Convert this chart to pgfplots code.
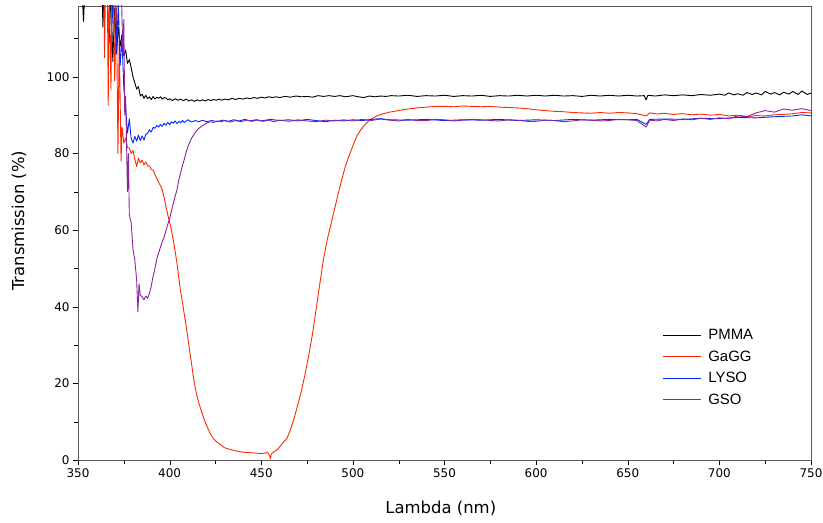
\documentclass[border=0pt]{standalone}
\usepackage{pgfplots}
\pgfplotsset{compat=1.18}
\usepackage{fontspec}
\setmainfont{DejaVu Sans}
\newfontfamily\legfont{Liberation Sans}
\definecolor{cRed}{RGB}{255,40,0}
\definecolor{cBlue}{RGB}{0,40,255}
\definecolor{cPurple}{RGB}{140,35,160}
\begin{document}
\begin{tikzpicture}
\begin{axis}[
  scale only axis,
  width=733bp, height=454bp,
  xmin=350, xmax=750, ymin=0, ymax=118.5,
  xtick={350,400,...,750}, minor xtick={375,425,...,725},
  ytick={0,20,...,100}, minor ytick={10,30,...,110},
  xtick pos=left, ytick pos=left,
  tick align=outside,
  major tick length=5bp, minor tick length=3.5bp,
  axis line style={black!65},
  tick style={black},
  /pgf/number format/assume math mode=true,
  /pgf/number format/1000 sep={},
  ticklabel style={font=\fontsize{12}{14}\selectfont},
  xticklabel style={inner xsep=0pt},
  xlabel={Lambda (nm)}, ylabel={Transmission (\%)},
  label style={font=\fontsize{16.5}{19}\selectfont},
  xlabel style={at={(axis description cs:0.495,-0.106)}, anchor=center},
  ylabel style={at={(axis description cs:-0.0805,0.527)}, anchor=center},
  legend style={draw=none, fill=none, at={(0.793,0.297)}, anchor=north west,
    font=\legfont\fontsize{15}{18}\selectfont, row sep=5.6bp},
  legend cell align=left,
  legend image code/.code={\draw[#1, line width=0.9bp] (0bp,0bp) -- (38bp,0bp); \path (43bp,0bp);},
  every axis plot/.append style={line width=0.9bp, line join=round},
]
\addplot[black] coordinates {(352,125)(353,114.5)(354,125)(363,125)(363.6,113)(364.2,125)(366,120)(367,109)(368,122)(369,104)(370,118)(371,106)(372,113)(373,108)(374,111)(375,105.5)(376,107)(377,103.5)(378,104.5)(379,102.5)(380,100)(381,98.5)(382,96.8)(383,97.5)(384,95)(385,95.5)(386,94.4)(387,95.2)(388,94.3)(389,94.8)(390,94.1)(391,94.9)(392,94.2)(393,94.7)(394,94.4)(395,94.8)(396,94.2)(397,94.6)(398,94.5)(399,94.0)(400,94.3)(401.5,93.8)(403,94.3)(404.5,93.9)(406,94.2)(407.5,93.8)(409,94.2)(410.5,93.7)(412,94.0)(413.5,93.6)(415,94)(416.5,93.7)(418,94.0)(419.5,93.7)(421,94.1)(422.5,93.8)(424,94.1)(425.5,93.9)(427,94.2)(428.5,93.9)(430,94.2)(432,94.0)(434,94.4)(436,94.1)(438,94.4)(440,94.2)(442,94.5)(444,94.3)(446,94.6)(448,94.4)(450,94.7)(452,94.5)(454,94.8)(456,94.6)(458,94.8)(460,94.6)(463,94.9)(466,94.7)(469,95.0)(472,94.8)(475,94.9)(478,94.7)(481,95.1)(484,94.9)(487,95.1)(490,94.9)(493,95.1)(496,94.8)(500,95.1)(503,94.8)(506,94.6)(509,95.0)(512,94.8)(515,95.0)(518,94.9)(521,95.1)(525,95.0)(530,95.2)(535,94.9)(540,95.1)(545,95.0)(550,95.2)(555,94.9)(560,95.1)(565,95.0)(570,95.2)(575,94.9)(580,95.1)(585,95.0)(590,95.2)(595,95.0)(600,95.2)(605,95.0)(610,95.2)(615,95.0)(620,95.1)(625,94.9)(630,95.2)(635,95.0)(640,95.2)(645,95.0)(650,95.2)(655,95.0)(659,95.1)(660,94.0)(661,95.2)(665,95.0)(670,95.3)(675,95.1)(680,95.3)(685,95.1)(690,95.4)(695,95.2)(700,95.5)(703,95.2)(705,95.8)(708,95.3)(710,95.6)(713,95.2)(715,95.9)(718,95.4)(720,95.8)(723,95.3)(725,96.2)(728,95.5)(730,95.9)(733,95.3)(735,96.0)(738,95.5)(740,96.2)(743,95.4)(745,96.3)(748,95.4)(750,95.8)};
\addlegendentry{PMMA}
\addplot[cRed] coordinates {(364,125)(364.5,105)(365,125)(366,125)(366.5,92.5)(367,125)(368,96.5)(368.5,125)(369.5,125)(370,99)(371,118)(371.8,80)(372.5,110)(373.5,78)(374,87)(375,82.7)(376,84)(377,81.5)(378,81.5)(379,80)(380,80.8)(381,78.5)(382,76.6)(383,78.8)(384,77.5)(385,78.3)(386,77)(387,77.8)(388,76.8)(389,76.7)(390,75.8)(391,75.7)(392,74.5)(393,73.5)(394,72.5)(395,71.6)(396,70.4)(397,68.5)(398,66.2)(399,64)(400,62)(401,60)(402,57.4)(403,54.5)(404,51.4)(405,47.5)(406,44)(407,41.2)(408,38)(409,35)(410,31.8)(411,28.2)(412,25)(413,21.5)(414,18.8)(415,16.6)(416,14.8)(417,13.2)(418,11.8)(419,10.4)(420,9.2)(422,7.0)(424,5.5)(426,4.6)(428,3.9)(430,3.2)(432,2.9)(435,2.5)(438,2.2)(441,2.0)(444,1.9)(447,1.8)(450,1.7)(452,1.8)(453.5,2.0)(454.5,1.2)(455,0.3)(455.5,1.6)(457,2.2)(458.5,2.6)(460,3.4)(462,4.6)(464,5.6)(466,8)(468,11)(470,14.5)(472,18.2)(474,22.6)(476,27.5)(478,33)(480,39.5)(482,46.1)(484,52.5)(486,57.5)(488,61.5)(490,65.5)(492,69.5)(494,73.3)(496,76.8)(498,79.5)(500,82)(502,84.4)(504,86)(506,87.2)(508,88.2)(510,89)(513,89.8)(516,90.3)(520,90.8)(525,91.2)(530,91.6)(535,91.9)(540,92.1)(545,92.3)(550,92.3)(555,92.2)(560,92.4)(565,92.3)(570,92.2)(575,92.3)(580,92.1)(585,92.0)(590,91.9)(595,91.7)(600,91.4)(605,91.2)(610,91.0)(615,90.9)(620,90.7)(625,90.6)(630,90.5)(635,90.7)(640,90.5)(645,90.7)(650,90.6)(655,90.4)(660,89.8)(662,90.6)(666,90.3)(670,90.5)(675,90.2)(680,90.4)(685,90.1)(690,90.3)(695,90.0)(700,90.2)(705,89.8)(710,90.0)(716,89.6)(720,89.9)(725,89.8)(730,90.1)(735,90.2)(740,90.4)(745,90.7)(750,90.6)};
\addlegendentry{GaGG}
\addplot[cBlue] coordinates {(368.5,125)(369,114)(369.5,125)(370.5,125)(371,106)(372,119)(373,103)(374,110)(375,97)(376,92)(377,85.3)(378,89)(379,84)(380,82.7)(381,84.5)(382,83.2)(383,84.8)(384,83.4)(385,84.6)(386,83.5)(387,85)(388,85.3)(389,86.2)(390,85.6)(391,86.8)(392,86.6)(393,87.3)(394,86.9)(395,87.6)(396,87.1)(397,87.9)(398,87.4)(399,88.1)(400,87.5)(401,88.3)(402,87.9)(403,88.5)(404,87.8)(405,88.4)(406,88.0)(407,88.6)(408,88.1)(410,88.8)(412,88.2)(414,88.6)(416,88.3)(418,88.7)(420,88.3)(423,88.6)(426,88.3)(429,88.7)(432,88.4)(435,88.8)(438,88.5)(441,88.9)(444,88.5)(447,88.8)(450,88.5)(455,88.9)(460,88.6)(465,88.8)(470,88.5)(475,88.9)(480,88.6)(485,88.3)(490,88.7)(495,88.5)(500,88.8)(505,88.6)(510,88.9)(515,89.1)(520,88.8)(530,88.7)(540,88.9)(550,88.6)(560,88.8)(570,88.7)(580,88.9)(590,88.6)(600,88.8)(610,88.6)(620,88.9)(630,88.7)(640,88.9)(650,88.8)(655,88.9)(660,87.6)(662,88.9)(670,89.0)(680,88.9)(690,89.2)(700,89.1)(710,89.4)(720,89.3)(730,89.6)(740,89.8)(745,90.1)(750,89.8)};
\addlegendentry{LYSO}
\addplot[cPurple] coordinates {(372,125)(373.5,125)(374.5,106)(375,115)(375.5,90)(376,95)(377,70)(377.5,80)(378,64)(379,62)(380,55)(381,52.2)(382,47)(382.7,38.7)(383.3,46)(384,43)(385,42.6)(386,41.8)(387,42.8)(388,42.2)(389,43.5)(390,45.5)(391,48)(392,50)(393,52.5)(394,54)(395,55.6)(396,57)(397,58.2)(398,59.8)(399,61.5)(400,63)(401,65)(402,67)(403,68.8)(404,70.5)(405,73)(406,75)(407,76.8)(408,78.5)(409,80.3)(410,81.8)(411,83)(412,84)(413,84.8)(414,85.5)(415,86.1)(416,86.6)(418,87.3)(420,87.9)(422,88.3)(424,88.1)(426,88.5)(428,88.3)(430,88.6)(433,88.2)(436,88.6)(439,88.3)(442,88.7)(445,88.4)(448,88.8)(451,88.4)(454,88.7)(457,88.3)(460,88.7)(465,88.4)(470,88.8)(475,88.5)(480,88.3)(485,88.7)(490,88.5)(495,88.8)(500,88.5)(505,88.9)(510,88.6)(515,89.0)(520,88.7)(525,88.5)(530,88.9)(535,88.6)(540,88.6)(545,88.9)(550,88.8)(555,88.5)(560,88.7)(565,88.9)(570,88.8)(575,88.6)(580,88.5)(585,88.8)(590,88.7)(595,88.4)(600,88.4)(605,88.7)(610,88.6)(615,88.3)(620,88.5)(625,88.8)(630,88.7)(635,88.5)(640,88.6)(645,88.9)(650,88.8)(655,88.6)(660,86.9)(662,88.7)(666,88.5)(670,88.9)(675,88.6)(680,89.0)(685,88.8)(690,89.2)(695,88.9)(700,89.3)(705,89.1)(710,89.8)(715,89.6)(720,90.6)(725,91.2)(730,90.8)(735,91.6)(740,91.3)(745,91.7)(750,91.2)};
\addlegendentry{GSO}
\end{axis}
\path ([xshift=-78bp,yshift=6bp]current axis.north west) rectangle ([xshift=12bp,yshift=-63bp]current axis.south east);
\end{tikzpicture}
\end{document}
